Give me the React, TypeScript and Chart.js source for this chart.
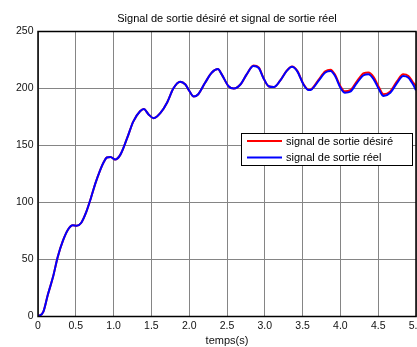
import { useEffect, useRef } from "react";
import { Chart, registerables } from "chart.js";

Chart.register(...registerables);

const TITLE = "Signal de sortie désiré et signal de sortie réel";
const X_LABEL = "temps(s)";
const SERIES_NAMES = ["signal de sortie désiré", "signal de sortie réel"];
const SERIES_COLORS = ["#ff0000", "#0000ff"];

const xTicks = [0, 0.5, 1, 1.5, 2, 2.5, 3, 3.5, 4, 4.5, 5];
const yTicks = [0, 50, 100, 150, 200, 250];

const timeS = [
  0, 0.07, 0.13, 0.2, 0.26, 0.33, 0.4, 0.46, 0.51, 0.57,
  0.64, 0.7, 0.76, 0.82, 0.87, 0.91, 0.96, 1.02, 1.09, 1.18, 1.26,
  1.35, 1.4, 1.46, 1.53, 1.62, 1.71, 1.79, 1.88, 1.95, 2.0,
  2.06, 2.12, 2.21, 2.3, 2.38, 2.43, 2.52, 2.59, 2.68, 2.76,
  2.85, 2.92, 2.98, 3.05, 3.12, 3.2, 3.29, 3.36, 3.43, 3.51,
  3.58, 3.62, 3.71, 3.8, 3.87, 3.93, 4.0, 4.06, 4.13, 4.22,
  4.31, 4.37, 4.44, 4.51, 4.57, 4.66, 4.75, 4.83, 4.9, 4.96, 5.0,
];

const desired = [
  0, 4, 19, 35, 52, 66.5, 76.5, 80, 79.5, 82,
  92, 104, 117, 128, 135.5, 139.5, 140, 137.7, 142, 156.7, 171,
  180, 182, 177.5, 174, 178.6, 188, 200, 206, 203.5, 198,
  193, 195, 205, 214, 217, 212.4, 202, 200, 203.7, 212.4,
  220.2, 218.5, 209.5, 202, 201.3, 206.6, 215.6, 219.4, 215.5, 204,
  198.9, 199.6, 207.5, 215, 216.5, 212, 202, 197.5, 198.5, 206.5,
  213.5, 214, 210, 201, 195, 197.5, 206.5, 212.5, 211, 205.5, 202,
];

const actual = [
  0, 4, 19, 35, 52, 66.5, 76.5, 80, 79.5, 82,
  92, 104, 117, 128, 135.5, 139.5, 140, 137.7, 142, 156.7, 171,
  180, 182, 177.5, 174, 178.6, 188, 200, 206, 203.5, 198,
  193, 195, 205, 214, 217, 212.4, 202, 200, 203.7, 212.4,
  219.7, 218, 209.5, 202, 201.3, 206.6, 215.4, 219, 215, 203.7,
  198.7, 199.3, 206.6, 214, 215.4, 211, 200.7, 196.3, 197.2, 205,
  211.8, 212.4, 208, 199.3, 193.4, 196.3, 205, 211, 209.5, 203.7, 198.4,
];

const FONT = "'Liberation Sans', Arial, sans-serif";

const framePlugin = {
  id: "frameAndLegend",
  afterDatasetsDraw(chart: any) {
    const { ctx, chartArea } = chart;
    ctx.save();
    ctx.strokeStyle = "#000";
    ctx.lineWidth = 1.5;
    ctx.strokeRect(
      chartArea.left,
      chartArea.top,
      chartArea.right - chartArea.left,
      chartArea.bottom - chartArea.top
    );
    ctx.restore();
  },
  afterDraw(chart: any) {
    const { ctx, chartArea } = chart;
    ctx.save();
    ctx.fillStyle = "#000";
    ctx.font = `11px ${FONT}`;
    ctx.textAlign = "center";
    ctx.textBaseline = "middle";
    ctx.fillText(TITLE, (chartArea.left + chartArea.right) / 2, 18.5);

    const bw = 172;
    const bh = 33;
    const bx = chartArea.right - 3 - bw;
    const by = chartArea.top + 101.5;
    ctx.fillStyle = "#fff";
    ctx.fillRect(bx, by, bw, bh);
    ctx.strokeStyle = "#000";
    ctx.lineWidth = 1;
    ctx.strokeRect(bx + 0.5, by + 0.5, bw - 1, bh - 1);
    const rows = [by + 8, by + 24.5];
    chart.data.datasets.forEach((ds: any, i: number) => {
      const y = rows[i];
      ctx.strokeStyle = ds.borderColor;
      ctx.lineWidth = 2;
      ctx.beginPath();
      ctx.moveTo(bx + 6, y);
      ctx.lineTo(bx + 41, y);
      ctx.stroke();
      ctx.fillStyle = "#000";
      ctx.font = `11px ${FONT}`;
      ctx.textAlign = "left";
      ctx.textBaseline = "middle";
      ctx.fillText(ds.label, bx + 45, y + 0.5);
    });
    ctx.restore();
  },
};

export default function App() {
  const ref = useRef<HTMLCanvasElement | null>(null);

  useEffect(() => {
    document.body.style.margin = "0";
    const canvas = ref.current;
    if (!canvas) return;
    const chart = new Chart(canvas, {
      type: "line",
      data: {
        datasets: [
          {
            label: SERIES_NAMES[0],
            data: timeS.map((t, i) => ({ x: t, y: desired[i] })),
            borderColor: SERIES_COLORS[0],
            borderWidth: 2,
            pointRadius: 0,
            cubicInterpolationMode: "monotone",
            fill: false,
            order: 2,
          },
          {
            label: SERIES_NAMES[1],
            data: timeS.map((t, i) => ({ x: t, y: actual[i] })),
            borderColor: SERIES_COLORS[1],
            borderWidth: 2,
            pointRadius: 0,
            cubicInterpolationMode: "monotone",
            fill: false,
            order: 1,
          },
        ],
      },
      options: {
        animation: false,
        responsive: false,
        devicePixelRatio: 1,
        layout: { padding: { top: 31.5, right: 1, left: 0, bottom: 0 } },
        plugins: {
          legend: { display: false },
          tooltip: { enabled: false },
          title: { display: false },
        },
        scales: {
          x: {
            type: "linear",
            min: 0,
            max: 5,
            afterBuildTicks: (s: any) => {
              s.ticks = xTicks.map((v) => ({ value: v }));
            },
            afterFit: (s: any) => {
              s.height = 30.5;
              s.paddingLeft = 0;
              s.paddingRight = 0;
            },
            grid: { color: "#858585", lineWidth: 1, drawTicks: false },
            border: { display: false },
            ticks: {
              color: "#111",
              font: { family: FONT, size: 10.5 },
              padding: 3,
              maxRotation: 0,
              autoSkip: false,
            },
            title: {
              display: true,
              text: X_LABEL,
              color: "#111",
              font: { family: FONT, size: 11, lineHeight: 1 },
              padding: { top: 0, bottom: 0.5 },
            },
          },
          y: {
            type: "linear",
            min: 0,
            max: 250,
            afterBuildTicks: (s: any) => {
              s.ticks = yTicks.map((v) => ({ value: v }));
            },
            afterFit: (s: any) => {
              s.width = 38;
              s.paddingTop = 0;
              s.paddingBottom = 0;
            },
            grid: { color: "#858585", lineWidth: 1, drawTicks: false },
            border: { display: false },
            ticks: {
              color: "#111",
              font: { family: FONT, size: 10.5 },
              padding: 4.5,
              autoSkip: false,
            },
          },
        },
      },
      plugins: [framePlugin],
    });
    return () => chart.destroy();
  }, []);

  return (
    <canvas
      ref={ref}
      width={417}
      height={347}
      style={{ display: "block", width: 417, height: 347 }}
    />
  );
}
